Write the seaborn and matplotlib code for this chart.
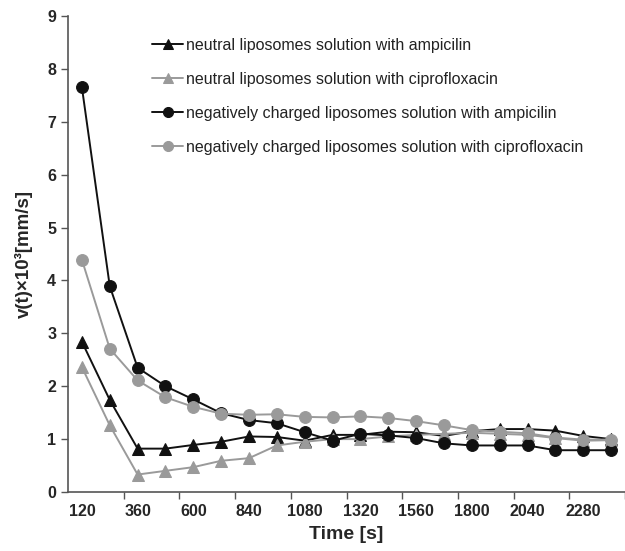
import pandas as pd
import matplotlib
matplotlib.use("Agg")
import matplotlib.pyplot as plt
import seaborn as sns

# time points [s]
time_s = [120, 240, 360, 480, 600, 720, 840, 960, 1080, 1200,
          1320, 1440, 1560, 1680, 1800, 1920, 2040, 2160, 2280, 2400]

# v(t) x 10^3 [mm/s]
neutral_ampicilin = [2.84, 1.74, 0.82, 0.82, 0.89, 0.95, 1.05, 1.04, 0.97, 1.08,
                     1.08, 1.14, 1.13, 1.06, 1.15, 1.19, 1.19, 1.16, 1.06, 1.00]
neutral_cipro = [2.36, 1.26, 0.33, 0.40, 0.47, 0.59, 0.64, 0.88, 0.95, 1.00,
                 1.00, 1.05, 1.08, 1.10, 1.12, 1.10, 1.08, 1.02, 0.97, 0.98]
negative_ampicilin = [7.65, 3.89, 2.35, 2.00, 1.75, 1.49, 1.36, 1.30, 1.13, 0.97,
                      1.10, 1.07, 1.02, 0.92, 0.88, 0.88, 0.88, 0.79, 0.79, 0.79]
negative_cipro = [4.39, 2.71, 2.11, 1.79, 1.61, 1.48, 1.46, 1.47, 1.42, 1.41,
                  1.43, 1.40, 1.34, 1.26, 1.17, 1.14, 1.11, 1.03, 0.99, 0.99]

series_labels = [
    "neutral liposomes solution with ampicilin",
    "neutral liposomes solution with ciprofloxacin",
    "negatively charged liposomes solution with ampicilin",
    "negatively charged liposomes solution with ciprofloxacin",
]
x_tick_labels = ["120", "360", "600", "840", "1080", "1320",
                 "1560", "1800", "2040", "2280"]

sns.set_style("ticks")
plt.rcParams["font.family"] = ["Liberation Sans", "DejaVu Sans"]

fig = plt.figure(figsize=(6.25, 5.51), dpi=100)
ax = fig.add_axes([68 / 625, 1 - 492 / 551, 1 - 68 / 625, (492 - 16) / 551])

black = "#111111"
grey = "#9a9a9a"
styles = [(black, "^"), (grey, "^"), (black, "o"), (grey, "o")]
values = [neutral_ampicilin, neutral_cipro, negative_ampicilin, negative_cipro]

for vals, label, (col, mk) in zip(values, series_labels, styles):
    df = pd.DataFrame({"time": time_s, "v": vals})
    sns.lineplot(data=df, x="time", y="v", ax=ax, color=col, marker=mk,
                 markersize=8.5, markeredgecolor=col, linewidth=1.4,
                 label=label)

# category-style x axis: ticks between every second category
ax.set_xlim(60, 2448)
ax.set_xticks([300 + 240 * i for i in range(10)])
ax.set_xticklabels([])
ax.set_xticks([int(t) for t in x_tick_labels], minor=True)
ax.set_xticklabels(x_tick_labels, minor=True, fontsize=11.5, fontweight="bold")
ax.tick_params(axis="x", which="minor", length=0, pad=9)
ax.tick_params(axis="x", which="major", length=5, width=1, color="#555555")

ax.set_ylim(0, 9)
ax.set_yticks(range(10))
ax.set_yticklabels([str(i) for i in range(10)], fontsize=11.5, fontweight="bold")
ax.tick_params(axis="y", length=5, width=1, color="#555555")

for side in ["left", "bottom"]:
    ax.spines[side].set_color("#555555")
    ax.spines[side].set_linewidth(1.2)
sns.despine(ax=ax)

ax.set_xlabel("Time [s]", fontsize=14, fontweight="bold", labelpad=5)
ax.set_ylabel("v(t)×10³[mm/s]", fontsize=13.5, fontweight="bold", labelpad=10)

ax.legend(loc="upper left", bbox_to_anchor=(0.125, 0.985), frameon=False,
          fontsize=11.5, labelspacing=1.2, handlelength=1.95, handletextpad=0.2,
          markerscale=0.85, labelcolor="#222222")

fig.savefig("out.png", dpi=100)
